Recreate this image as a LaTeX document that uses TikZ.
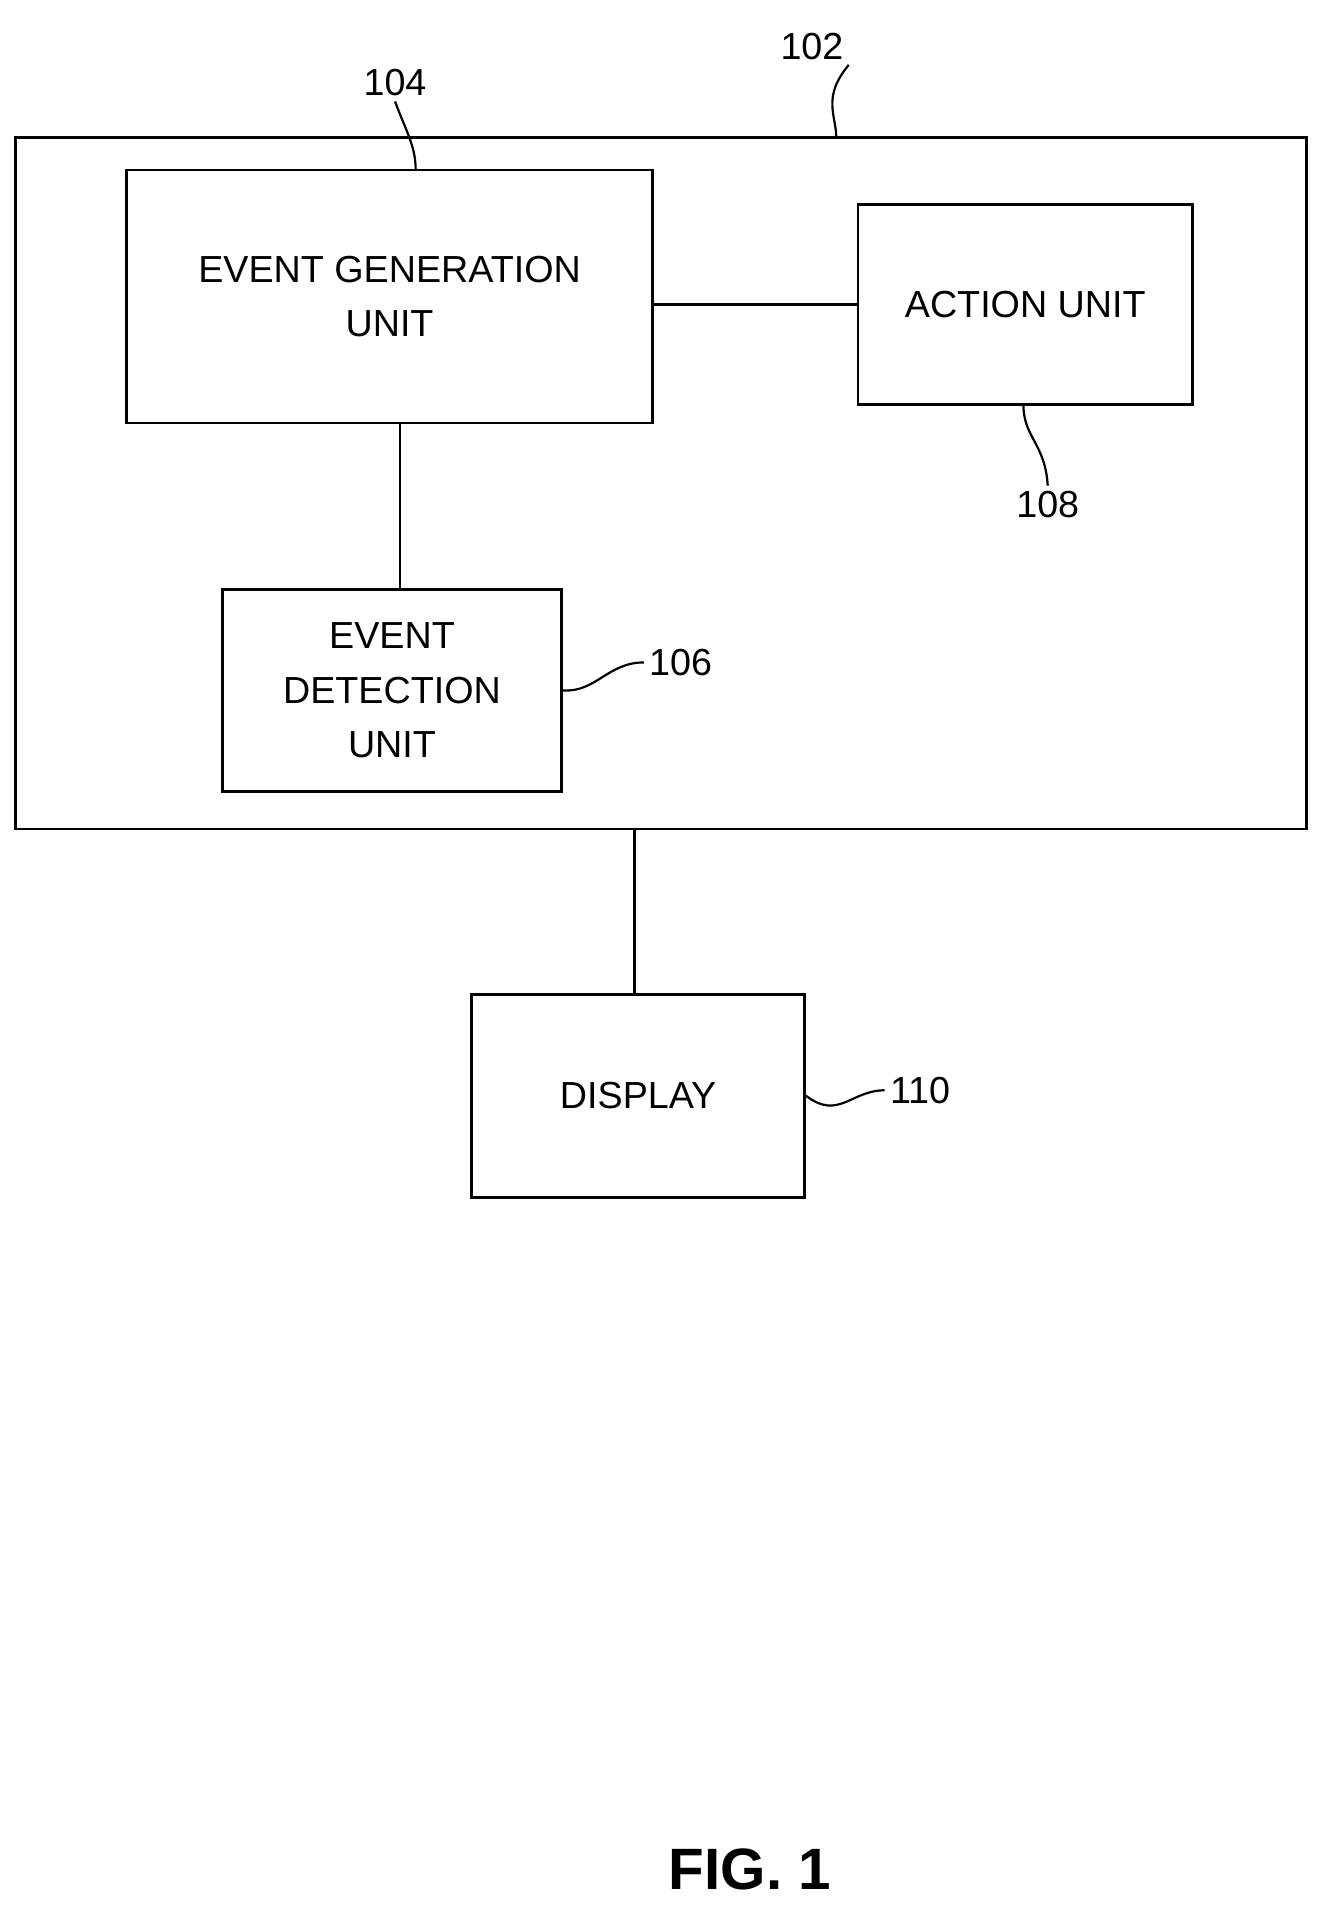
\documentclass[tikz,border=0pt]{standalone}
\usepackage{fontspec}
\setmainfont{Liberation Sans}
\begin{document}
\begin{tikzpicture}[x=1pt,y=-1pt,line width=2.2pt,
  box/.style={draw,rectangle,inner sep=0pt,align=center,font=\fontsize{31}{45}\selectfont},
  lab/.style={font=\fontsize{31}{36}\selectfont},
  lead/.style={line width=1.8pt}]
\useasboundingbox (0,0) rectangle (1100,1578);
\draw (13,113) rectangle (1075,682);
\coordinate (outtop) at (688,113);
\coordinate (outbot) at (522,682);
\node[box,minimum width=433pt,minimum height=208pt] (egu) at (320.5,244) {EVENT GENERATION\\UNIT};
\node[box,minimum width=275pt,minimum height=165pt] (act) at (843.5,250.5) {ACTION UNIT};
\node[box,minimum width=279pt,minimum height=166pt] (edu) at (322.5,568) {EVENT\\DETECTION\\UNIT};
\node[box,minimum width=274pt,minimum height=167pt] (disp) at (525,901.5) {DISPLAY};
\draw (egu.east |- act.west) -- (act.west);
\draw (329,348) -- (329,485);
\draw (outbot) -- (disp.north -| outbot);
\node[lab] (l102) at (668,38) {102};
\node[lab] (l104) at (325,68) {104};
\node[lab] (l108) at (862,415) {108};
\node[lab] (l106) at (560,545) {106};
\node[lab] (l110) at (757,897) {110};
\draw[lead] (outtop) .. controls (688,95) and (676,80) .. (l102.south east);
\draw[lead] (342,140) .. controls (342,120) and (334,108) .. (l104.south);
\draw[lead] (842,333) .. controls (842,360) and (860,365) .. (l108.north);
\draw[lead] (edu.east) .. controls (490,570) and (500,545) .. (l106.west);
\draw[lead] (disp.east) .. controls (690,922) and (700,897) .. (l110.west);
\node[font=\bfseries\fontsize{48}{56}\selectfont] (fig) at (617,1538) {FIG. 1};
\end{tikzpicture}
\end{document}
